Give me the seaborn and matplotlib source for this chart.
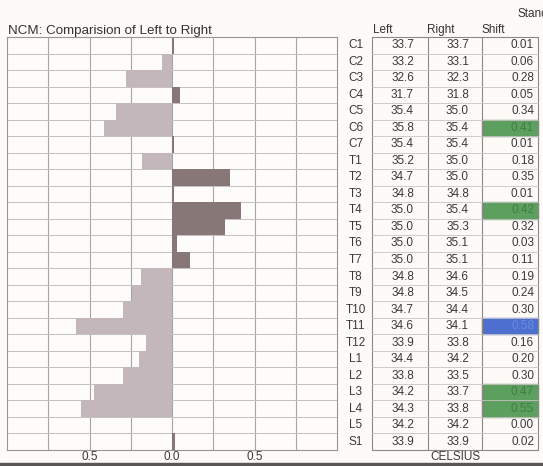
import numpy as np
import pandas as pd
import matplotlib.pyplot as plt
import seaborn as sns
from matplotlib.patches import Rectangle
from matplotlib.transforms import blended_transform_factory

# table values (celsius)
segments = ["C1", "C2", "C3", "C4", "C5", "C6", "C7",
            "T1", "T2", "T3", "T4", "T5", "T6", "T7", "T8", "T9", "T10", "T11", "T12",
            "L1", "L2", "L3", "L4", "L5", "S1"]
left_temp = [33.7, 33.2, 32.6, 31.7, 35.4, 35.8, 35.4,
             35.2, 34.7, 34.8, 35.0, 35.0, 35.0, 35.0, 34.8, 34.8, 34.7, 34.6, 33.9,
             34.4, 33.8, 34.2, 34.3, 34.2, 33.9]
right_temp = [33.7, 33.1, 32.3, 31.8, 35.0, 35.4, 35.4,
              35.0, 35.0, 34.8, 35.4, 35.3, 35.1, 35.1, 34.6, 34.5, 34.4, 34.1, 33.8,
              34.2, 33.5, 33.7, 33.8, 34.2, 33.9]
shift = [0.01, 0.06, 0.28, 0.05, 0.34, 0.41, 0.01,
         0.18, 0.35, 0.01, 0.42, 0.32, 0.03, 0.11, 0.19, 0.24, 0.30, 0.58, 0.16,
         0.20, 0.30, 0.47, 0.55, 0.00, 0.02]
# which side is warmer, drawn to the left or right of zero
warmer = ["R", "L", "L", "R", "L", "L", "R",
          "L", "R", "R", "R", "R", "R", "R", "L", "L", "L", "L", "L",
          "L", "L", "L", "L", "R", "R"]
green_cells = ["C6", "T4", "L3", "L4"]
blue_cells = ["T11"]

df = pd.DataFrame({"segment": segments, "shift": shift, "side": warmer})
df["bar"] = np.where(df["side"] == "R", df["shift"], -df["shift"])

sns.set_style("white")
plt.rcParams["font.family"] = ["Liberation Sans", "DejaVu Sans"]

W, H = 543, 466
fig = plt.figure(figsize=(W / 100, H / 100), dpi=100)
fig.patch.set_facecolor("#fdfaf8")
ax = fig.add_axes([7 / W, 1 - 450 / H, 330 / W, 413 / H])
ax.set_facecolor("#fefcfb")

sns.barplot(data=df, y="segment", x="bar", hue="side", order=segments,
            palette={"L": "#c6b5ba", "R": "#8a7674"}, dodge=False, width=1.0,
            linewidth=0, legend=False, ax=ax)

ax.set_xlim(-1, 1)
ax.set_ylim(24.5, -0.5)
ax.set_xticks([-0.5, 0, 0.5])
ax.set_xticklabels(["0.5", "0.0", "0.5"])
ax.set_xticks(np.arange(-0.75, 1, 0.25), minor=True)
ax.set_yticks([])
ax.set_yticks(np.arange(0.5, 24, 1), minor=True)
ax.grid(which="both", axis="x", color="#a8a4a4", lw=0.8)
ax.grid(which="minor", axis="y", color="#c4c0c0", lw=0.7)
ax.set_axisbelow(True)
ax.tick_params(axis="x", which="both", length=0, pad=1, labelsize=8.5, labelcolor="#3a3a3a")
ax.set_xlabel("")
ax.set_ylabel("")
for s in ax.spines.values():
    s.set_color("#9a9696")
    s.set_linewidth(0.8)

# table next to the chart
trans = blended_transform_factory(fig.transFigure, ax.transData)
edges = [372, 428, 482, 538]
txt = dict(fontsize=8.5, color="#3a3a3a", va="center", transform=trans)

for i, seg in enumerate(segments):
    if seg in green_cells or seg in blue_cells:
        c = "#5c9f5f" if seg in green_cells else "#4d6fd0"
        ax.add_patch(Rectangle((edges[2] / W, i - 0.5), (edges[3] - edges[2]) / W, 1,
                               transform=trans, color=c, clip_on=False, zorder=2))
        tc = "#3f7d44" if seg in green_cells else "#6a88dc"
    else:
        tc = "#3a3a3a"
    ax.text(356 / W, i, seg, ha="center", clip_on=False, **txt)
    ax.text(414 / W, i, f"{left_temp[i]:.1f}", ha="right", clip_on=False, **txt)
    ax.text(469 / W, i, f"{right_temp[i]:.1f}", ha="right", clip_on=False, **txt)
    ax.text(534 / W, i, f"{shift[i]:.2f}", ha="right", clip_on=False, zorder=3,
            **{**txt, "color": tc})

for e in edges:
    ax.plot([e / W, e / W], [-0.5, 24.5], color="#8c8888", lw=0.8,
            transform=trans, clip_on=False)
for b in np.arange(-0.5, 25, 1):
    edge_row = b in (-0.5, 24.5)
    ax.plot([edges[0] / W, edges[3] / W], [b, b], color="#8c8888" if edge_row else "#c8c4c4",
            lw=0.8 if edge_row else 0.6, transform=trans, clip_on=False)

# headers and labels
fig.text(8 / W, 1 - 31 / H, "NCM: Comparision of Left to Right", fontsize=9.6,
         color="#333333", va="center")
fig.text(373 / W, 1 - 30 / H, "Left", fontsize=8.5, color="#333333", va="center")
fig.text(427 / W, 1 - 30 / H, "Right", fontsize=8.5, color="#333333", va="center")
fig.text(482 / W, 1 - 30 / H, "Shift", fontsize=8.5, color="#333333", va="center")
fig.text(518 / W, 1 - 14 / H, "Standard", fontsize=8.5, color="#333333", va="center")
fig.text(455 / W, 1 - 457 / H, "CELSIUS", fontsize=8.5, color="#3a3a3a",
         ha="center", va="center")

# dark edge at the very bottom
fig.add_artist(Rectangle((0, 0), 1, 3 / H, transform=fig.transFigure, color="#5a5656"))

plt.savefig("out.png", dpi=100, facecolor=fig.get_facecolor())
plt.close()
